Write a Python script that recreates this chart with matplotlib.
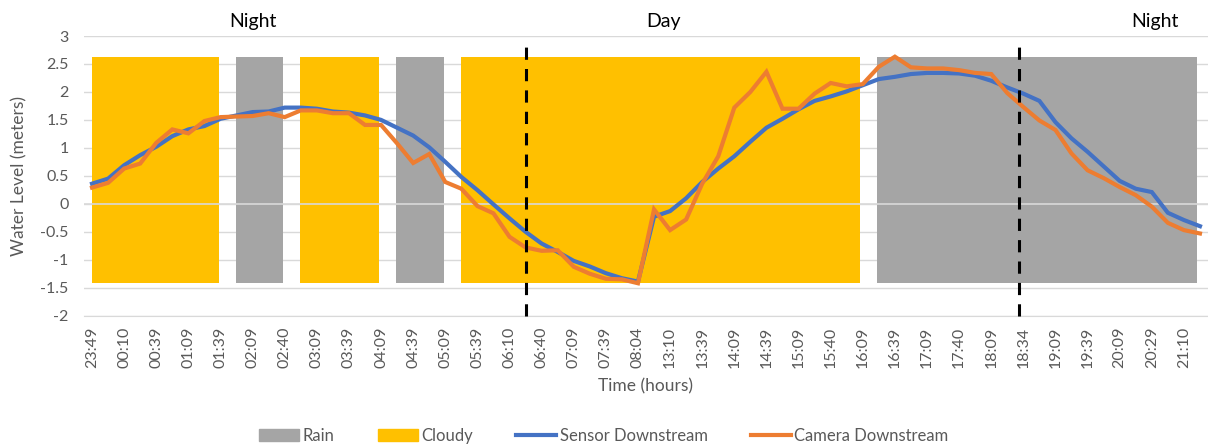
import matplotlib.pyplot as plt
from matplotlib.patches import Patch
from matplotlib.lines import Line2D
import numpy as np

# Datos
etiquetas = ["23:49", "00:10", "00:39", "01:09", "01:39", "02:09", "02:40", "03:09",
             "03:39", "04:09", "04:39", "05:09", "05:39", "06:10", "06:40", "07:09",
             "07:39", "08:04", "13:10", "13:39", "14:09", "14:39", "15:09", "15:40",
             "16:09", "16:39", "17:09", "17:40", "18:09", "18:34", "19:09", "19:39",
             "20:09", "20:29", "21:10"]

sensor = [0.36, 0.45, 0.69, 0.87, 1.02, 1.21, 1.33, 1.39, 1.52, 1.58,
          1.64, 1.65, 1.72, 1.72, 1.70, 1.65, 1.63, 1.58, 1.50, 1.36,
          1.22, 1.01, 0.75, 0.48, 0.245, -0.01, -0.26, -0.50, -0.71, -0.86,
          -1.02, -1.12, -1.24, -1.33, -1.39, -0.23, -0.13, 0.10, 0.39, 0.63,
          0.85, 1.11, 1.36, 1.52, 1.69, 1.84, 1.92, 2.01, 2.12, 2.23,
          2.27, 2.32, 2.34, 2.34, 2.33, 2.29, 2.20, 2.08, 1.97, 1.84,
          1.46, 1.17, 0.93, 0.67, 0.41, 0.27, 0.21, -0.16, -0.29, -0.40]

camara = [0.29, 0.375, 0.63, 0.72, 1.09, 1.33, 1.26, 1.48, 1.55, 1.56,
          1.57, 1.62, 1.55, 1.67, 1.67, 1.62, 1.62, 1.41, 1.41, 1.08,
          0.73, 0.89, 0.39, 0.27, -0.04, -0.17, -0.59, -0.78, -0.84, -0.83,
          -1.125, -1.25, -1.34, -1.35, -1.42, -0.10, -0.47, -0.28, 0.36, 0.85,
          1.72, 2.00, 2.36, 1.70, 1.70, 1.97, 2.16, 2.10, 2.14, 2.45,
          2.63, 2.44, 2.42, 2.42, 2.39, 2.34, 2.32, 1.98, 1.73, 1.49,
          1.32, 0.90, 0.60, 0.46, 0.30, 0.155, -0.05, -0.34, -0.47, -0.53]

# Intervalos (índice de categoría) de lluvia y nublado
lluvia = [(8.95, 11.9), (18.9, 21.9), (48.9, 68.8)]
nublado = [(0, 7.9), (12.95, 17.9), (22.95, 47.8)]
banda_min, banda_max = -1.42, 2.63

# Límites día/noche y sus etiquetas
limites = [27, 57.7]
periodos = ["Night", "Day", "Night"]
pos_periodos = [10.0, 35.6, 66.2]

plt.rcParams['font.family'] = ['Lato', 'DejaVu Sans']
gris_texto = '#595959'

fig = plt.figure(figsize=(12.08, 4.45), dpi=100)
ax = fig.add_axes([84 / 1208, 1 - 315.7 / 445, (1208 - 84) / 1208, (315.7 - 36) / 445])

x = np.arange(len(sensor))

# Bandas de clima
for a, b in lluvia:
    ax.bar(a, banda_max - banda_min, width=b - a, bottom=banda_min, align='edge',
           color='#A5A5A5', zorder=1, linewidth=0)
for a, b in nublado:
    ax.bar(a, banda_max - banda_min, width=b - a, bottom=banda_min, align='edge',
           color='#FFC000', zorder=1, linewidth=0)

# Líneas de nivel de agua
ax.plot(x, sensor, color='#4472C4', linewidth=3.0, zorder=3, solid_joinstyle='miter')
ax.plot(x, camara, color='#ED7D31', linewidth=3.0, zorder=4, solid_joinstyle='miter')

# Líneas día/noche
for lim in limites:
    ax.plot([lim, lim], [-2, 2.92], color='black', linewidth=2.2,
            linestyle=(0, (4, 3)), zorder=5, clip_on=False)

for nombre, p in zip(periodos, pos_periodos):
    ax.text(p, 3.26, nombre, ha='center', va='center', fontsize=14,
            color='black', clip_on=False)

# Ejes
ax.set_xlim(-0.5, len(sensor) - 0.5)
ax.set_ylim(-2, 3)
ax.set_yticks(np.arange(-2, 3.01, 0.5))
ax.set_yticklabels(['-2', '-1.5', '-1', '-0.5', '0', '0.5', '1', '1.5', '2', '2.5', '3'])
ax.set_xticks(np.arange(0, len(sensor), 2))
ax.set_xticklabels(etiquetas, rotation=90)
ax.tick_params(axis='both', length=0, labelsize=11.5, colors=gris_texto)
ax.tick_params(axis='x', pad=8)
ax.tick_params(axis='y', pad=11)
ax.grid(axis='y', color='#D9D9D9', linewidth=1, zorder=0)
ax.set_axisbelow(True)
ax.axhline(0, color='#D9D9D9', linewidth=1.2, zorder=2)
for lado in ['top', 'right', 'left']:
    ax.spines[lado].set_visible(False)
ax.spines['bottom'].set_color('#D9D9D9')

ax.set_ylabel('Water Level (meters)', fontsize=12.5, color=gris_texto, labelpad=9)
ax.set_xlabel('Time (hours)', fontsize=12.5, color=gris_texto, labelpad=7)

# Leyenda
elementos = [Patch(color='#A5A5A5', label='Rain'),
             Patch(color='#FFC000', label='Cloudy'),
             Line2D([0], [0], color='#4472C4', linewidth=3.0, label='Sensor Downstream'),
             Line2D([0], [0], color='#ED7D31', linewidth=3.0, label='Camera Downstream')]
leg = fig.legend(handles=elementos, loc='center', bbox_to_anchor=(0.5, 1 - 436 / 445),
                 ncol=4, frameon=False, fontsize=12, handlelength=2.4,
                 handletextpad=0.2, columnspacing=2.6)
for t in leg.get_texts():
    t.set_color(gris_texto)

fig.savefig('out.png', dpi=100)
